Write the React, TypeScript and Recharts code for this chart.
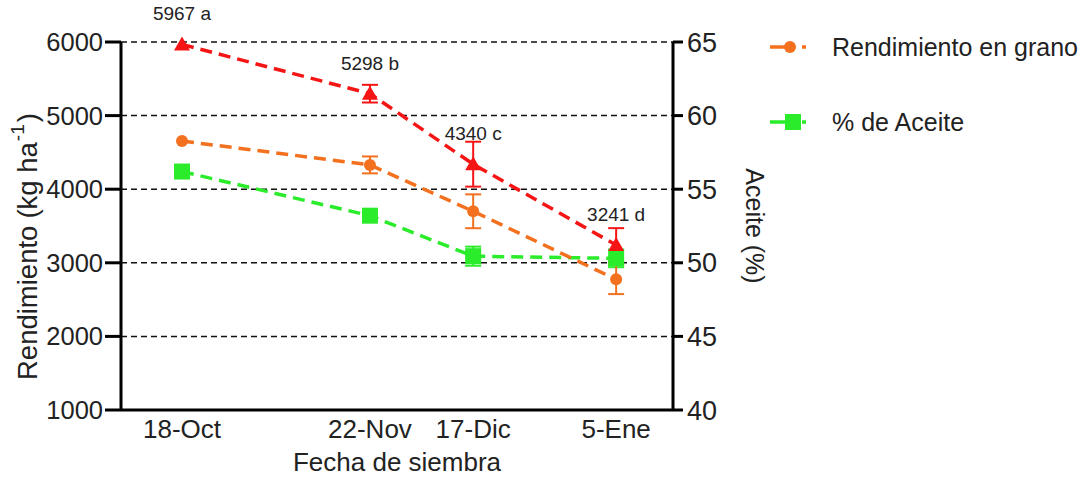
import {
  CartesianGrid,
  ErrorBar,
  LabelList,
  Line,
  LineChart,
  XAxis,
  YAxis,
} from 'recharts';

const fechas = ['18-Oct', '22-Nov', '17-Dic', '5-Ene'];
// posicion de cada fecha sobre el eje (escala 0-100)
const posicion = [11.05, 45.1, 63.8, 89.7];

const rendimiento = [5967, 5298, 4340, 3241];
const errorRendimiento = [0, 120, 305, 230];
const letras = ['a', 'b', 'c', 'd'];

const rendimientoGrano = [4655, 4330, 3700, 2775];
const errorGrano = [0, 115, 230, 200];

const aceite = [56.2, 53.2, 50.45, 50.3];
const errorAceite = [0, 0, 0.65, 0.6];

const ticksRendimiento = [1000, 2000, 3000, 4000, 5000, 6000];
const ticksAceite = [40, 45, 50, 55, 60, 65];

const data = fechas.map((fecha, i) => ({
  fecha,
  pos: posicion[i],
  rend: rendimiento[i],
  rendErr: errorRendimiento[i],
  grano: rendimientoGrano[i],
  granoErr: errorGrano[i],
  aceite: aceite[i],
  aceiteErr: errorAceite[i],
}));

const FONT = '"Liberation Sans", Arial, sans-serif';
const RED = '#f51515';
const ORANGE = '#f3701f';
const GREEN = '#2aec2a';

const triangle = (p: any) => (
  <polygon
    key={`t-${p.index}`}
    points={`${p.cx},${p.cy - 8} ${p.cx - 8},${p.cy + 6} ${p.cx + 8},${p.cy + 6}`}
    fill={RED}
  />
);

const circle = (p: any) => (
  <circle key={`c-${p.index}`} cx={p.cx} cy={p.cy} r={6} fill={ORANGE} />
);

const square = (p: any) => (
  <rect key={`s-${p.index}`} x={p.cx - 8} y={p.cy - 8} width={16} height={16} fill={GREEN} />
);

const xTick = (p: any) => {
  const i = posicion.indexOf(p.payload.value);
  return (
    <text x={p.x} y={p.y + 20} textAnchor='middle' fontSize={26} fontFamily={FONT} fill='#222'>
      {fechas[i]}
    </text>
  );
};

const leftTitle = (p: any) => {
  const cx = p.viewBox.x + 27;
  const cy = p.viewBox.y + 338;
  return (
    <text
      transform={`rotate(-90 ${cx} ${cy})`}
      x={cx}
      y={cy}
      textAnchor='start'
      dominantBaseline='central'
      fontSize={27.5}
      fontFamily={FONT}
      fill='#222'
    >
      Rendimiento<tspan dx={7}>(kg ha</tspan>
      <tspan dy={-10} dx={1} fontSize={19}>-1</tspan>
      <tspan dy={10} dx={2}>)</tspan>
    </text>
  );
};

const rightTitle = (p: any) => {
  const cx = p.viewBox.x + 82;
  const cy = p.viewBox.y + p.viewBox.height / 2;
  return (
    <text
      transform={`rotate(90 ${cx} ${cy})`}
      x={cx}
      y={cy}
      textAnchor='middle'
      dominantBaseline='central'
      fontSize={25}
      fontFamily={FONT}
      fill='#222'
    >
      Aceite (%)
    </text>
  );
};

const xTitle = (p: any) => (
  <text
    x={p.viewBox.x + p.viewBox.width / 2}
    y={p.viewBox.y + 61}
    textAnchor='middle'
    fontSize={26}
    fontFamily={FONT}
    fill='#222'
  >
    Fecha de siembra
  </text>
);

const etiqueta = (p: any) => (
  <text
    key={`l-${p.index}`}
    x={p.x}
    y={p.y - 24}
    textAnchor='middle'
    fontSize={19}
    fontFamily={FONT}
    fill='#222'
  >
    {`${p.value} ${letras[p.index]}`}
  </text>
);

const leyenda = [
  { name: 'Rendimiento en grano', color: ORANGE, shape: 'circle', y: 47 },
  { name: '% de Aceite', color: GREEN, shape: 'square', y: 122 },
];

export default function App() {
  return (
    <div style={{ position: 'absolute', left: 0, top: 0, width: 1090, height: 479, background: '#fff' }}>
      <LineChart
        width={1090}
        height={479}
        data={data}
        margin={{ top: 42, right: 300, left: 0, bottom: 0 }}
      >
        <CartesianGrid
          vertical={false}
          yAxisId='rend'
          stroke='#111'
          strokeWidth={1.5}
          strokeDasharray='6 4'
        />
        <XAxis
          dataKey='pos'
          type='number'
          domain={[0, 100]}
          ticks={posicion}
          tick={xTick}
          tickLine={false}
          axisLine={{ stroke: '#000', strokeWidth: 3 }}
          height={69}
          label={xTitle}
        />
        <YAxis
          yAxisId='rend'
          domain={[1000, 6000]}
          ticks={ticksRendimiento}
          width={121}
          tickSize={16}
          tickMargin={2}
          tick={{ fontSize: 25.5, fontFamily: FONT, fill: '#222' }}
          tickLine={{ stroke: '#000', strokeWidth: 3 }}
          axisLine={{ stroke: '#000', strokeWidth: 3 }}
          label={leftTitle}
        />
        <YAxis
          yAxisId='aceite'
          orientation='right'
          domain={[40, 65]}
          ticks={ticksAceite}
          width={117}
          tickSize={10}
          tickMargin={4}
          tick={{ fontSize: 27, fontFamily: FONT, fill: '#222' }}
          tickLine={{ stroke: '#000', strokeWidth: 3 }}
          axisLine={{ stroke: '#000', strokeWidth: 3 }}
          label={rightTitle}
        />
        <Line
          yAxisId='aceite'
          dataKey='aceite'
          stroke={GREEN}
          strokeWidth={3.5}
          strokeDasharray='12 7'
          dot={square}
          isAnimationActive={false}
        >
          <ErrorBar dataKey='aceiteErr' direction='y' width={8} stroke={GREEN} strokeWidth={2} />
        </Line>
        <Line
          yAxisId='rend'
          dataKey='grano'
          stroke={ORANGE}
          strokeWidth={3.5}
          strokeDasharray='12 7'
          dot={circle}
          isAnimationActive={false}
        >
          <ErrorBar dataKey='granoErr' direction='y' width={8} stroke={ORANGE} strokeWidth={2} />
        </Line>
        <Line
          yAxisId='rend'
          dataKey='rend'
          stroke={RED}
          strokeWidth={3.5}
          strokeDasharray='12 7'
          dot={triangle}
          isAnimationActive={false}
        >
          <ErrorBar dataKey='rendErr' direction='y' width={8} stroke={RED} strokeWidth={2} />
          <LabelList dataKey='rend' content={etiqueta} />
        </Line>
      </LineChart>
      <svg width={330} height={160} style={{ position: 'absolute', left: 760, top: 0 }}>
        {leyenda.map((l) => (
          <g key={l.name}>
            <line x1={10} x2={50} y1={l.y} y2={l.y} stroke={l.color} strokeWidth={3.5} strokeDasharray='24 8 4' />
            {l.shape === 'circle' ? (
              <circle cx={30} cy={l.y} r={6} fill={l.color} />
            ) : (
              <rect x={25} y={l.y - 8} width={16} height={16} fill={l.color} />
            )}
            <text x={72} y={l.y} dominantBaseline='central' fontSize={25} fontFamily={FONT} fill='#222'>
              {l.name}
            </text>
          </g>
        ))}
      </svg>
    </div>
  );
}
